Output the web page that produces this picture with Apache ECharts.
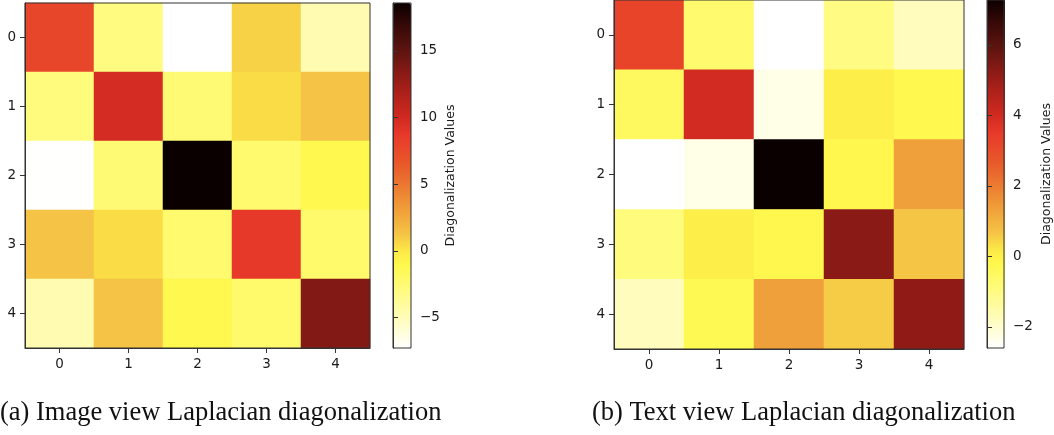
<!DOCTYPE html>
<html><head><meta charset="utf-8">
<script src="https://cdn.jsdelivr.net/npm/echarts@6/dist/echarts.min.js"></script>
<style>html,body{margin:0;padding:0;background:#fff}#c{width:1054px;height:435px}</style>
</head><body><div id="c"></div>
<script>
// ---------- data ----------
const categories = ['0', '1', '2', '3', '4'];
const imageValues = [
  [7.8, -3.0, -7.3, 0.8, -4.8],
  [-2.9, 9.8, -2.5, 0.4, 1.3],
  [-7.25, -2.5, 18.6, -2.3, -1.1],
  [1.3, 0.4, -2.3, 8.7, -2.2],
  [-4.8, 1.3, -1.1, -2.2, 13.6]
];
const textValues = [
  [3.2, -0.7, -2.6, -1.0, -1.8],
  [-0.5, 3.95, -2.3, 0.05, -0.25],
  [-2.6, -2.3, 7.27, -0.2, 1.33],
  [-0.92, 0.05, -0.2, 5.25, 0.64],
  [-1.8, -0.3, 1.33, 0.55, 5.15]
];
const imageRange = [-7.3, 18.6];
const textRange = [-2.6, 7.27];
const imageTicks = [-5, 0, 5, 10, 15];
const textTicks = [-2, 0, 2, 4, 6];
const captions = ['(a) Image view Laplacian diagonalization', '(b) Text view Laplacian diagonalization'];
const colorbarLabel = 'Diagonalization Values';

// ---------- colormap (hot_r as rendered) ----------
const cmapAnchors = [
  [0, '#ffffff'], [0.089, '#fffcb8'], [0.166, '#fffb80'], [0.243, '#fff84c'],
  [0.282, '#fce848'], [0.328, '#f5c545'], [0.398, '#f0a03a'], [0.502, '#ea682d'],
  [0.529, '#e85a2a'], [0.618, '#e8392a'], [0.668, '#d02a20'], [0.761, '#a01e18'],
  [0.861, '#5e1410'], [0.927, '#3a0a08'], [1, '#0b0000']
];
function hex2rgb(h) { return [1, 3, 5].map(i => parseInt(h.substr(i, 2), 16)); }
function cmapAt(t) {
  for (let i = 1; i < cmapAnchors.length; i++) {
    const [t1, c1] = cmapAnchors[i];
    const [t0, c0] = cmapAnchors[i - 1];
    if (t <= t1) {
      const f = (t - t0) / (t1 - t0);
      const a = hex2rgb(c0), b = hex2rgb(c1);
      return 'rgb(' + a.map((v, k) => Math.round(v + (b[k] - v) * f)).join(',') + ')';
    }
  }
  return cmapAnchors[cmapAnchors.length - 1][1];
}
const cmapColors = [];
for (let i = 0; i <= 100; i++) cmapColors.push(cmapAt(i / 100));

function cells(m) {
  const out = [];
  m.forEach((row, r) => row.forEach((v, c) => out.push([c, r, v])));
  return out;
}
const minus = v => String(v).replace('-', '\u2212');

const tickFont = { color: '#1a1a1a', fontSize: 13.5, fontFamily: 'DejaVu Sans' };
const spine = '#333';

function catX(gi) {
  return {
    gridIndex: gi, type: 'category', data: categories, position: 'bottom', z: 10,
    axisLine: { show: true, lineStyle: { color: spine, width: 1 } },
    axisTick: { show: true, alignWithLabel: true, length: 5, lineStyle: { color: spine } },
    axisLabel: Object.assign({ margin: 9 }, tickFont),
    splitLine: { show: false }
  };
}
function catY(gi) {
  return {
    gridIndex: gi, type: 'category', data: categories, inverse: true, position: 'left', z: 10,
    axisLine: { show: true, lineStyle: { color: spine, width: 1 } },
    axisTick: { show: true, alignWithLabel: true, length: 5, lineStyle: { color: spine } },
    axisLabel: Object.assign({ margin: 9 }, tickFont),
    splitLine: { show: false }
  };
}
function cbY(gi, range, ticks, gap) {
  return {
    gridIndex: gi, type: 'value', position: 'right', min: range[0], max: range[1], z: 10,
    axisLine: { show: true, lineStyle: { color: spine } },
    axisTick: { show: true, length: 5, customValues: ticks, lineStyle: { color: spine } },
    axisLabel: Object.assign({ margin: 9, customValues: ticks, formatter: minus }, tickFont),
    splitLine: { show: false },
    name: colorbarLabel, nameLocation: 'middle', nameRotate: 90, nameGap: gap,
    nameTextStyle: { color: '#1a1a1a', fontSize: 12.5, fontFamily: 'DejaVu Sans' }
  };
}
const gridStyle = { show: true, borderColor: spine, borderWidth: 1, backgroundColor: 'transparent', z: 10 };
const capStyle = { fontFamily: 'Liberation Serif', fontSize: 26.5, fontWeight: 'normal', color: '#111' };

const chart = echarts.init(document.getElementById('c'), null, { renderer: 'canvas' });
chart.setOption({
  animation: false,
  backgroundColor: '#fff',
  title: [
    { text: captions[0], left: 0, top: 400, padding: 0, textStyle: capStyle },
    { text: captions[1], left: 592, top: 400, padding: 0, textStyle: capStyle }
  ],
  grid: [
    Object.assign({ left: 25, top: 3, width: 345, height: 345 }, gridStyle),
    Object.assign({ left: 393, top: 3, width: 18, height: 345 }, gridStyle),
    Object.assign({ left: 614, top: -1, width: 350, height: 350 }, gridStyle),
    Object.assign({ left: 987, top: -1, width: 18, height: 349 }, gridStyle)
  ],
  xAxis: [
    catX(0),
    { gridIndex: 1, type: 'value', show: false, min: 0, max: 1 },
    catX(2),
    { gridIndex: 3, type: 'value', show: false, min: 0, max: 1 }
  ],
  yAxis: [
    catY(0),
    cbY(1, imageRange, imageTicks, 33),
    catY(2),
    cbY(3, textRange, textTicks, 36)
  ],
  visualMap: [
    { type: 'continuous', seriesIndex: 0, min: imageRange[0], max: imageRange[1],
      inRange: { color: cmapColors }, left: 393, top: 3, itemWidth: 18, itemHeight: 345,
      calculable: false, hoverLink: false, padding: 0, orient: 'vertical', text: null, show: true },
    { type: 'continuous', seriesIndex: 1, min: textRange[0], max: textRange[1],
      inRange: { color: cmapColors }, left: 987, top: -1, itemWidth: 18, itemHeight: 349,
      calculable: false, hoverLink: false, padding: 0, orient: 'vertical', text: null, show: true }
  ],
  series: [
    { type: 'heatmap', xAxisIndex: 0, yAxisIndex: 0, data: cells(imageValues), emphasis: { disabled: true } },
    { type: 'heatmap', xAxisIndex: 2, yAxisIndex: 2, data: cells(textValues), emphasis: { disabled: true } }
  ]
});
</script></body></html>
